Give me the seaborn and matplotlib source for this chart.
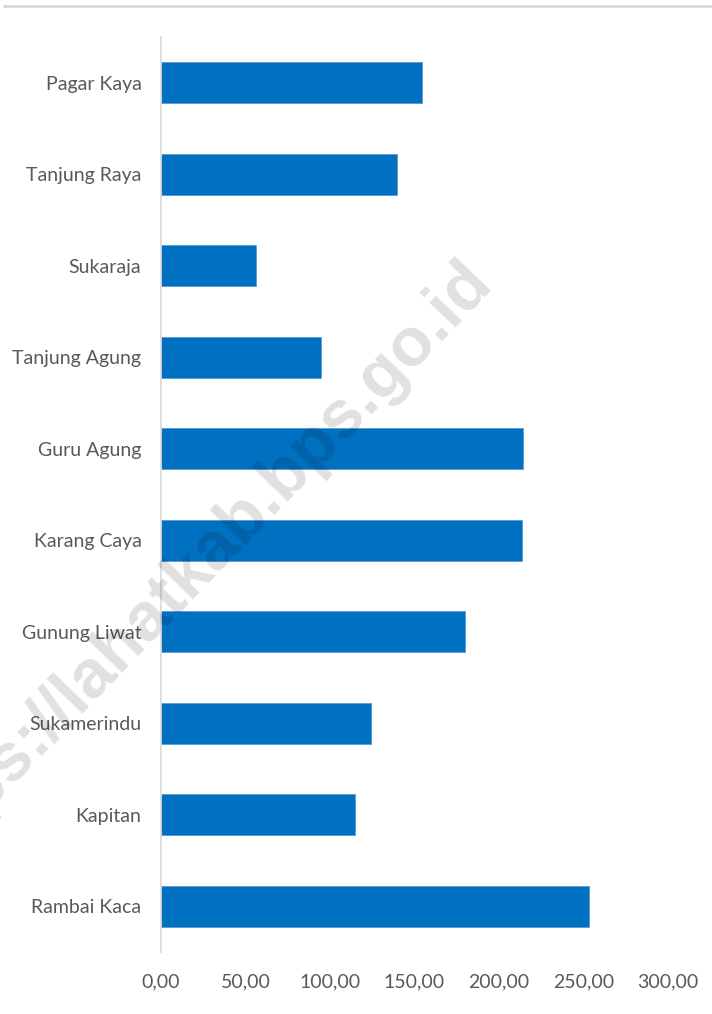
import matplotlib
matplotlib.use("Agg")
import matplotlib.pyplot as plt
import seaborn as sns
import pandas as pd
from matplotlib.lines import Line2D

categories = ["Pagar Kaya", "Tanjung Raya", "Sukaraja", "Tanjung Agung", "Guru Agung",
              "Karang Caya", "Gunung Liwat", "Sukamerindu", "Kapitan", "Rambai Kaca"]
values = [154.3, 139.5, 56.1, 94.6, 214.0, 213.4, 179.7, 124.1, 114.7, 253.5]
xticks = [0, 50, 100, 150, 200, 250, 300]
xtick_labels = ["0,00", "50,00", "100,00", "150,00", "200,00", "250,00", "300,00"]

sns.set_theme(style="white")
plt.rcParams['font.family'] = ['Lato', 'DejaVu Sans']

df = pd.DataFrame({"desa": categories, "nilai": values})

fig = plt.figure(figsize=(7.12, 10.14), dpi=100)
ax = fig.add_axes([0.226, 0.0611, 0.712, 0.9024])
sns.barplot(data=df, y="desa", x="nilai", orient="h", color="#0070C0",
            saturation=1, width=0.45, ax=ax, edgecolor="#5B9BD5", linewidth=0.6)

ax.set_xlim(0, 300)
ax.set_ylim(9.5, -0.5)
ax.set_xticks(xticks)
ax.set_xticklabels(xtick_labels)
ax.set_xlabel("")
ax.set_ylabel("")
for s in ["top", "right", "bottom"]:
    ax.spines[s].set_visible(False)
ax.spines["left"].set_color("#D9D9D9")
ax.spines["left"].set_linewidth(1.2)
ax.tick_params(axis="both", length=0, colors="#595959", labelsize=14)
ax.tick_params(axis="x", pad=15)
ax.tick_params(axis="y", pad=14)

# top frame line
fig.add_artist(Line2D([0.006, 1.0], [0.9945, 0.9945], transform=fig.transFigure,
                      color="#D9D9D9", linewidth=2))

# watermark
fig.text(494 / 712, 1 - 284 / 1014, "https://lahatkab.bps.go.id", rotation=46,
         rotation_mode="anchor", ha="right", va="baseline",
         fontsize=49, fontweight="bold",
         family="Liberation Sans", color="black", alpha=0.12, zorder=10)

fig.savefig("out.png", dpi=100)
